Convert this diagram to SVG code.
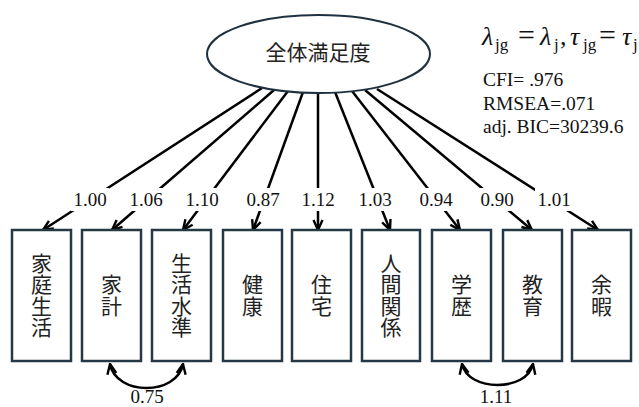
<svg xmlns="http://www.w3.org/2000/svg" width="639" height="407" viewBox="0 0 639 407">
<style>
.ln{stroke:#000;stroke-width:2.5;fill:none}
.box{fill:#fff;stroke:#263845;stroke-width:2.5}
.ell{fill:#fff;stroke:#1f3140;stroke-width:2}
.cjk{font-family:"Noto Sans CJK JP","Noto Sans CJK SC",sans-serif;font-size:21px;fill:#222;text-anchor:middle}
.vt{writing-mode:vertical-rl;letter-spacing:0.5px}
.num{font-family:"Liberation Serif",serif;font-size:19px;fill:#111;text-anchor:middle}
.stat{font-family:"Liberation Serif",serif;font-size:19.5px;fill:#111}
.bg{fill:#fff}
.fm{font-family:"Liberation Serif",serif;font-size:26px;fill:#111}
.it{font-style:italic}
.sb{font-size:17px}
.eq{font-size:30px}
</style>
<defs>
<marker id="ah" markerUnits="userSpaceOnUse" viewBox="0 0 12 12" refX="11" refY="6" markerWidth="12" markerHeight="12" orient="auto-start-reverse">
<path d="M1,1.5 L11,6 L1,10.5" fill="none" stroke="#000" stroke-width="2.4" stroke-linejoin="miter"/>
</marker>
</defs>
<g id="connectors">
<line class="ln" x1="262" y1="88" x2="43" y2="230" marker-end="url(#ah)"/>
<line class="ln" x1="274" y1="90" x2="112" y2="230" marker-end="url(#ah)"/>
<line class="ln" x1="288" y1="91" x2="183" y2="230" marker-end="url(#ah)"/>
<line class="ln" x1="303" y1="92" x2="253" y2="230" marker-end="url(#ah)"/>
<line class="ln" x1="318" y1="92" x2="318" y2="230" marker-end="url(#ah)"/>
<line class="ln" x1="335" y1="92" x2="390" y2="230" marker-end="url(#ah)"/>
<line class="ln" x1="352" y1="91" x2="460" y2="230" marker-end="url(#ah)"/>
<line class="ln" x1="365" y1="90" x2="532" y2="230" marker-end="url(#ah)"/>
<line class="ln" x1="377" y1="89" x2="598" y2="230" marker-end="url(#ah)"/>
<rect class="bg" x="71" y="188" width="38" height="23"/>
<rect class="bg" x="127" y="188" width="38" height="23"/>
<rect class="bg" x="183" y="188" width="38" height="23"/>
<rect class="bg" x="244" y="188" width="38" height="23"/>
<rect class="bg" x="299" y="188" width="38" height="23"/>
<rect class="bg" x="356" y="188" width="38" height="23"/>
<rect class="bg" x="417" y="188" width="38" height="23"/>
<rect class="bg" x="478" y="188" width="38" height="23"/>
<rect class="bg" x="535" y="188" width="38" height="23"/>
<text class="num" x="90" y="206">1.00</text>
<text class="num" x="146" y="206">1.06</text>
<text class="num" x="202" y="206">1.10</text>
<text class="num" x="263" y="206">0.87</text>
<text class="num" x="318" y="206">1.12</text>
<text class="num" x="375" y="206">1.03</text>
<text class="num" x="436" y="206">0.94</text>
<text class="num" x="497" y="206">0.90</text>
<text class="num" x="554" y="206">1.01</text>
<path class="ln" d="M110,364 C116,396 177,396 183,364" marker-start="url(#ah)" marker-end="url(#ah)"/>
<path class="ln" d="M462,364 C468,392 527,392 533,364" marker-start="url(#ah)" marker-end="url(#ah)"/>
<text class="num" x="147" y="403">0.75</text>
<text class="num" x="496" y="403">1.11</text>
</g>
<g id="n_total">
<ellipse class="ell" cx="318.5" cy="54" rx="111.5" ry="39"/>
<text class="cjk" x="318" y="60" font-size="22">全体満足度</text>
</g>
<g id="n1"><rect class="box" x="12" y="230" width="59" height="131"/><text class="cjk vt" x="41.5" y="295.5">家庭生活</text></g>
<g id="n2"><rect class="box" x="82" y="230" width="59" height="131"/><text class="cjk vt" x="111.5" y="295.5">家計</text></g>
<g id="n3"><rect class="box" x="152" y="230" width="59" height="131"/><text class="cjk vt" x="181.5" y="295.5">生活水準</text></g>
<g id="n4"><rect class="box" x="223" y="230" width="59" height="131"/><text class="cjk vt" x="252.5" y="295.5">健康</text></g>
<g id="n5"><rect class="box" x="292" y="230" width="59" height="131"/><text class="cjk vt" x="321.5" y="295.5">住宅</text></g>
<g id="n6"><rect class="box" x="362" y="230" width="58" height="131"/><text class="cjk vt" x="391" y="295.5">人間関係</text></g>
<g id="n7"><rect class="box" x="432" y="230" width="59" height="131"/><text class="cjk vt" x="461.5" y="295.5">学歴</text></g>
<g id="n8"><rect class="box" x="503" y="230" width="59" height="131"/><text class="cjk vt" x="532.5" y="295.5">教育</text></g>
<g id="n9"><rect class="box" x="572" y="230" width="59" height="131"/><text class="cjk vt" x="601.5" y="295.5">余暇</text></g>
<g id="stats">
<text class="fm" y="45"><tspan class="it" x="482">λ</tspan><tspan class="sb" x="495" dy="5">jg</tspan><tspan class="eq" x="518" dy="-5">=</tspan><tspan class="it" x="540">λ</tspan><tspan class="sb" x="554" dy="5">j</tspan><tspan x="560" dy="-5">,</tspan><tspan class="it" x="570">τ</tspan><tspan class="sb" x="583" dy="5">jg</tspan><tspan class="eq" x="599" dy="-5">=</tspan><tspan class="it" x="622">τ</tspan><tspan class="sb" x="633" dy="5">j</tspan></text>
<text class="stat" x="483" y="86">CFI= .976</text>
<text class="stat" x="483" y="110">RMSEA=.071</text>
<text class="stat" x="483" y="133">adj. BIC=30239.6</text>
</g>
</svg>
